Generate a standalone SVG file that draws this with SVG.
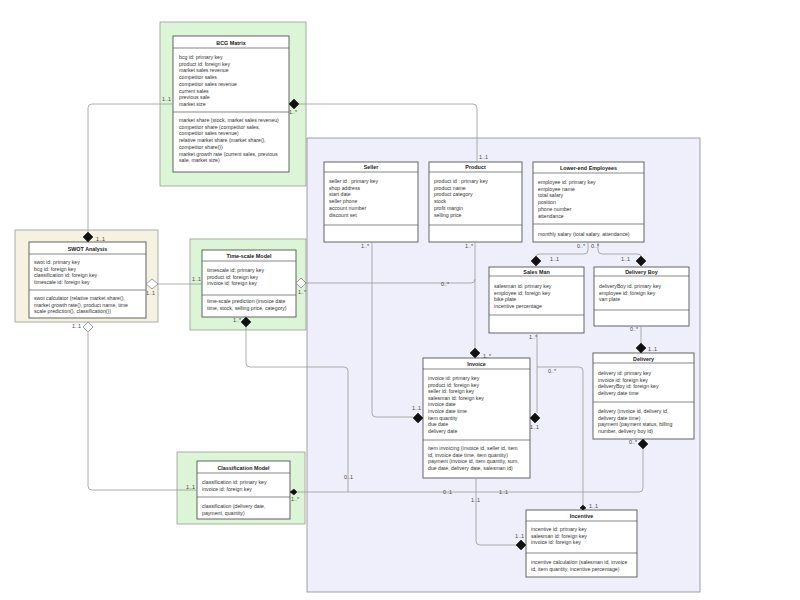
<svg xmlns="http://www.w3.org/2000/svg" width="800" height="600" viewBox="0 0 800 600">
<style>
.bg{fill:#ffffff}
.lav{fill:#efeffb;stroke:#8a8a9a;stroke-width:0.8}
.grn{fill:#dcf5d6;stroke:#9a9a9a;stroke-width:0.8}
.crm{fill:#f6f2e1;stroke:#9a9a9a;stroke-width:0.8}
.box{fill:#ffffff;stroke:#555;stroke-width:0.9}
.ln{stroke:#555;stroke-width:0.7}
.t{font-family:"Liberation Sans",Arial,sans-serif;font-size:5.2px;fill:#333}
.h{font-family:"Liberation Sans",Arial,sans-serif;font-size:5.4px;font-weight:bold;fill:#222;text-anchor:middle}
.lb{font-family:"Liberation Sans",Arial,sans-serif;font-size:5.4px;fill:#444}
.c{fill:none;stroke:#999;stroke-width:0.8}
.fd{fill:#111;stroke:#111;stroke-width:0.5}
.od{fill:#fff;stroke:#777;stroke-width:0.7}
</style>
<rect class="bg" x="0" y="0" width="800" height="600"/>
<rect class="lav" x="307" y="138" width="393" height="454"/>

<g id="bcg-matrix">
<rect class="grn" x="160" y="22" width="146" height="164"/>
<rect class="box" x="173" y="36" width="116" height="136"/>
<line class="ln" x1="173" y1="48" x2="289" y2="48"/>
<line class="ln" x1="173" y1="112" x2="289" y2="112"/>
<text class="h" x="231" y="44.5">BCG Matrix</text>
<text class="t" x="179" y="59">bcg id: primary key</text>
<text class="t" x="179" y="65.7">product id: foreign key</text>
<text class="t" x="179" y="72.4">market sales revenue</text>
<text class="t" x="179" y="79.1">competitor sales</text>
<text class="t" x="179" y="85.8">competitor sales revenue</text>
<text class="t" x="179" y="92.5">current sales</text>
<text class="t" x="179" y="99.2">previous sale</text>
<text class="t" x="179" y="105.9">market size</text>
<text class="t" x="179" y="122">market share (stock, market sales reveneu)</text>
<text class="t" x="179" y="128.7">competitor share (competitor sales,</text>
<text class="t" x="179" y="135.4">competitor sales revenue)</text>
<text class="t" x="179" y="142.1">relative market share (market share(),</text>
<text class="t" x="179" y="148.8">competitor share())</text>
<text class="t" x="179" y="155.5">market growth rate (current sales, previous</text>
<text class="t" x="179" y="162.2">sale, market size)</text>
</g>

<g id="swot-analysis">
<rect class="crm" x="15" y="230" width="143" height="92"/>
<rect class="box" x="29" y="242" width="117" height="76"/>
<line class="ln" x1="29" y1="254" x2="146" y2="254"/>
<line class="ln" x1="29" y1="290" x2="146" y2="290"/>
<text class="h" x="87.5" y="250.5">SWOT Analysis</text>
<text class="t" x="34" y="264">swot id: primary key</text>
<text class="t" x="34" y="270.7">bcg id: foreign key</text>
<text class="t" x="34" y="277.4">classification id: foreign key</text>
<text class="t" x="34" y="284.1">timescale id: foreign key</text>
<text class="t" x="34" y="300">swot calculator (relative market share(),</text>
<text class="t" x="34" y="306.7">market growth rate(), product name, time</text>
<text class="t" x="34" y="313.4">scale prediction(), classification())</text>
</g>

<g id="time-scale-model">
<rect class="grn" x="190" y="239" width="116" height="91"/>
<rect class="box" x="202" y="250" width="94" height="67"/>
<line class="ln" x1="202" y1="261" x2="296" y2="261"/>
<line class="ln" x1="202" y1="295" x2="296" y2="295"/>
<text class="h" x="249" y="258">Time-scale Model</text>
<text class="t" x="207" y="272">timescale id: primary key</text>
<text class="t" x="207" y="278.7">product id: foreign key</text>
<text class="t" x="207" y="285.4">invoice id: foreign key</text>
<text class="t" x="207" y="303">time-scale prediction (invoice date</text>
<text class="t" x="207" y="309.7">time, stock, selling price, category)</text>
</g>

<g id="seller">
<rect class="box" x="324" y="162" width="94" height="80"/>
<line class="ln" x1="324" y1="172" x2="418" y2="172"/>
<line class="ln" x1="324" y1="225" x2="418" y2="225"/>
<text class="h" x="371" y="169">Seller</text>
<text class="t" x="329" y="183">seller id : primary key</text>
<text class="t" x="329" y="189.7">shop address</text>
<text class="t" x="329" y="196.4">start date</text>
<text class="t" x="329" y="203.1">seller phone</text>
<text class="t" x="329" y="209.8">account number</text>
<text class="t" x="329" y="216.5">discount set</text>
</g>

<g id="product">
<rect class="box" x="429" y="162" width="93" height="80"/>
<line class="ln" x1="429" y1="172" x2="522" y2="172"/>
<line class="ln" x1="429" y1="225" x2="522" y2="225"/>
<text class="h" x="475.5" y="169">Product</text>
<text class="t" x="434" y="183">product id : primary key</text>
<text class="t" x="434" y="189.7">product name</text>
<text class="t" x="434" y="196.4">product category</text>
<text class="t" x="434" y="203.1">stock</text>
<text class="t" x="434" y="209.8">profit margin</text>
<text class="t" x="434" y="216.5">selling price</text>
</g>

<g id="lower-end-employees">
<rect class="box" x="533" y="162" width="111" height="80"/>
<line class="ln" x1="533" y1="173" x2="644" y2="173"/>
<line class="ln" x1="533" y1="224" x2="644" y2="224"/>
<text class="h" x="588.5" y="170">Lower-end Employees</text>
<text class="t" x="538" y="184">employee id: primary key</text>
<text class="t" x="538" y="190.7">employee name</text>
<text class="t" x="538" y="197.4">total salary</text>
<text class="t" x="538" y="204.1">position</text>
<text class="t" x="538" y="210.8">phone number</text>
<text class="t" x="538" y="217.5">attendance</text>
<text class="t" x="538" y="235.5">monthly salary (total salary, attendance)</text>
</g>

<g id="sales-man">
<rect class="box" x="489" y="267" width="95" height="66"/>
<line class="ln" x1="489" y1="276" x2="584" y2="276"/>
<line class="ln" x1="489" y1="315" x2="584" y2="315"/>
<text class="h" x="536.5" y="273.8">Sales Man</text>
<text class="t" x="494" y="288">salesman id: primary key</text>
<text class="t" x="494" y="294.5">employee id: foreign key</text>
<text class="t" x="494" y="301">bike plate</text>
<text class="t" x="494" y="307.5">incentive percentage</text>
</g>

<g id="delivery-boy">
<rect class="box" x="594" y="267" width="95" height="59"/>
<line class="ln" x1="594" y1="276" x2="689" y2="276"/>
<line class="ln" x1="594" y1="310" x2="689" y2="310"/>
<text class="h" x="641.5" y="273.8">Delivery Boy</text>
<text class="t" x="599" y="288">deliveryBoy id: primary key</text>
<text class="t" x="599" y="294.5">employee id: foreign key</text>
<text class="t" x="599" y="301">van plate</text>
</g>

<g id="invoice">
<rect class="box" x="423" y="358" width="107" height="120"/>
<line class="ln" x1="423" y1="369" x2="530" y2="369"/>
<line class="ln" x1="423" y1="440" x2="530" y2="440"/>
<text class="h" x="476.5" y="366">Invoice</text>
<text class="t" x="428" y="380">invoice id: primary key</text>
<text class="t" x="428" y="386.6">product id: foreign key</text>
<text class="t" x="428" y="393.2">seller id: foreign key</text>
<text class="t" x="428" y="399.8">salesman id: foreign key</text>
<text class="t" x="428" y="406.4">invoice date</text>
<text class="t" x="428" y="413">invoice date time</text>
<text class="t" x="428" y="419.6">item quantity</text>
<text class="t" x="428" y="426.2">due date</text>
<text class="t" x="428" y="432.8">delivery date</text>
<text class="t" x="428" y="450">item invoicing (invoice id, seller id, item</text>
<text class="t" x="428" y="456.7">id, invoice date time, item quantity)</text>
<text class="t" x="428" y="463.4">payment (invoice id, item quantity, sum,</text>
<text class="t" x="428" y="470.1">due date, delivery date, salesman id)</text>
</g>

<g id="delivery">
<rect class="box" x="593" y="353" width="101" height="86"/>
<line class="ln" x1="593" y1="363" x2="694" y2="363"/>
<line class="ln" x1="593" y1="402" x2="694" y2="402"/>
<text class="h" x="643.5" y="360.5">Delivery</text>
<text class="t" x="598" y="375">delivery id: primary key</text>
<text class="t" x="598" y="381.7">invoice id: foreign key</text>
<text class="t" x="598" y="388.4">deliveryBoy id: foreign key</text>
<text class="t" x="598" y="395.1">delivery date time</text>
<text class="t" x="598" y="413">delivery (invoice id, delivery id,</text>
<text class="t" x="598" y="419.7">delivery date time)</text>
<text class="t" x="598" y="426.4">payment (payment status, billing</text>
<text class="t" x="598" y="433.1">number, delivery boy id)</text>
</g>

<g id="classification-model">
<rect class="grn" x="177" y="452" width="128" height="72"/>
<rect class="box" x="197" y="461" width="93" height="58"/>
<line class="ln" x1="197" y1="473" x2="290" y2="473"/>
<line class="ln" x1="197" y1="497" x2="290" y2="497"/>
<text class="h" x="243.5" y="469.5">Classification Model</text>
<text class="t" x="202" y="484">classification id: primary key</text>
<text class="t" x="202" y="490.7">invoice id:  foreign key</text>
<text class="t" x="202" y="508">classification (delivery date,</text>
<text class="t" x="202" y="514.7">payment, quantity)</text>
</g>

<g id="incentive">
<rect class="box" x="526" y="510" width="111" height="67"/>
<line class="ln" x1="526" y1="521" x2="637" y2="521"/>
<line class="ln" x1="526" y1="553" x2="637" y2="553"/>
<text class="h" x="581.5" y="518">Incentive</text>
<text class="t" x="531" y="531">incentive id: primary key</text>
<text class="t" x="531" y="537.7">salesman id: foreign key</text>
<text class="t" x="531" y="544.4">invoice id: foreign key</text>
<text class="t" x="531" y="564">incentive calculation (salesman id, invoice</text>
<text class="t" x="531" y="570.7">id, item quantity, incentive percentage)</text>
</g>

<g id="connectors">
<path class="c" d="M88,232 V108 Q88,104 92,104 H173"/>
<path class="c" d="M299,104 H473 Q477,104 477,108 V162"/>
<path class="c" d="M158,284 H202"/>
<path class="c" d="M306,283 H471 Q475,283 475,279"/>
<path class="c" d="M475,242 V348"/>
<path class="c" d="M372,242 V413 Q372,417 376,417 H413"/>
<path class="c" d="M246,327 V363 Q246,367 250,367 H344 Q348,367 348,371 V492"/>
<path class="c" d="M297,492 H476"/>
<path class="c" d="M476,478 V541 Q476,545 480,545 H516"/>
<path class="c" d="M476,492 H639 Q643,492 643,488 V449"/>
<path class="c" d="M537,333 V413"/>
<path class="c" d="M537,367 H579 Q583,367 583,371 V505"/>
<path class="c" d="M588,242 V250 Q588,254 584,254 H540 Q536,254 536,256"/>
<path class="c" d="M598,242 V250 Q598,254 602,254 H637 Q641,254 641,256"/>
<path class="c" d="M641,326 V343"/>
<path class="c" d="M88,332 V486 Q88,490 92,490 H197"/>
<path class="fd" d="M88,232 L93,237 L88,242 L83,237 Z"/>
<path class="fd" d="M289,104 L294,99 L299,104 L294,109 Z"/>
<path class="od" d="M146,284 L152,279 L158,284 L152,289 Z"/>
<path class="od" d="M296,283 L301,278 L306,283 L301,288 Z"/>
<path class="fd" d="M475,348 L480,353 L475,358 L470,353 Z"/>
<path class="fd" d="M413,418 L418,413 L423,418 L418,423 Z"/>
<path class="fd" d="M246,317 L251,322 L246,327 L241,322 Z"/>
<path class="fd" d="M290,492 L294,489 L297,492 L294,495 Z"/>
<path class="fd" d="M516,545 L521,540 L526,545 L521,550 Z"/>
<path class="fd" d="M643,439 L648,444 L643,449 L638,444 Z"/>
<path class="fd" d="M530,418 L535,413 L540,418 L535,423 Z"/>
<path class="fd" d="M583,505 L586,508 L583,510 L580,508 Z"/>
<path class="fd" d="M536,256 L541,261 L536,266 L531,261 Z"/>
<path class="fd" d="M641,256 L646,261 L641,266 L636,261 Z"/>
<path class="fd" d="M641,343 L646,348 L641,353 L636,348 Z"/>
<path class="od" d="M88,322 L93,327 L88,332 L83,327 Z"/>
<text class="lb" x="96" y="241">1..1</text>
<text class="lb" x="162" y="101">1..1</text>
<text class="lb" x="289" y="114">1..*</text>
<text class="lb" x="479" y="159">1..1</text>
<text class="lb" x="146" y="295">1..1</text>
<text class="lb" x="192" y="281">1..1</text>
<text class="lb" x="298" y="294">1..*</text>
<text class="lb" x="441" y="286">0..*</text>
<text class="lb" x="465" y="248">1..*</text>
<text class="lb" x="483" y="358">1..*</text>
<text class="lb" x="361" y="248">1..*</text>
<text class="lb" x="412" y="410">1..1</text>
<text class="lb" x="233" y="322">1..*</text>
<text class="lb" x="344" y="479">0..1</text>
<text class="lb" x="291" y="501">1..*</text>
<text class="lb" x="443" y="494">0..1</text>
<text class="lb" x="471" y="502">1..1</text>
<text class="lb" x="515" y="538">1..1</text>
<text class="lb" x="499" y="494">1..1</text>
<text class="lb" x="629" y="444">0..*</text>
<text class="lb" x="529" y="339">1..*</text>
<text class="lb" x="530" y="429">1..1</text>
<text class="lb" x="548" y="373">0..*</text>
<text class="lb" x="589" y="508">1..1</text>
<text class="lb" x="577" y="248">0..*</text>
<text class="lb" x="591" y="248">0..*</text>
<text class="lb" x="550" y="261">1..1</text>
<text class="lb" x="621" y="261">1..1</text>
<text class="lb" x="630" y="331">0..*</text>
<text class="lb" x="648" y="351">1..1</text>
<text class="lb" x="72" y="328">1..1</text>
<text class="lb" x="186" y="489">1..1</text>
</g>
</svg>
